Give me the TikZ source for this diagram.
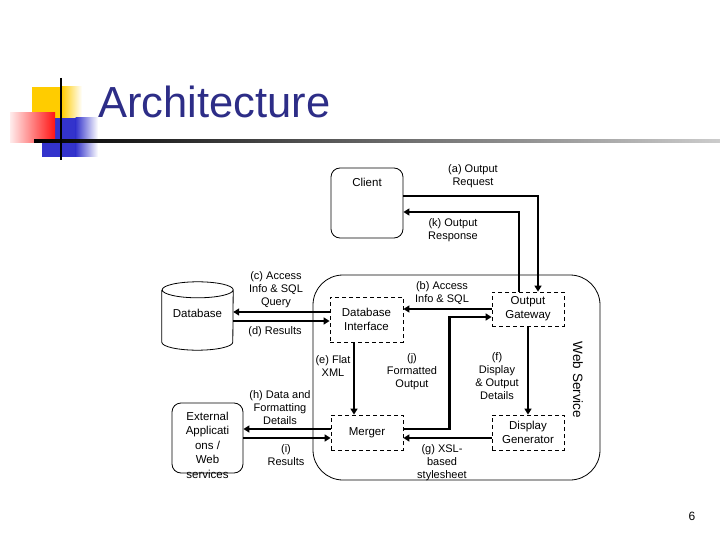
\documentclass[tikz,border=0pt]{standalone}
\usepackage{fontspec}
\setmainfont{Liberation Sans}
\usepackage{xcolor}
\usetikzlibrary{arrows.meta}
\definecolor{titleblue}{RGB}{45,45,135}
\definecolor{logoyellow}{RGB}{255,204,0}
\definecolor{logoblue}{RGB}{51,51,204}
\definecolor{logored}{RGB}{255,20,20}

\begin{document}
\begin{tikzpicture}[x=1pt,y=-1pt]
\tikzstyle{lbl} = [align=center, inner sep=0pt, font=\fontsize{11}{13}\selectfont]
\tikzstyle{dashbox} = [draw, dash pattern=on 4pt off 3pt, line width=0.8pt, align=center, font=\fontsize{11.5}{14}\selectfont, inner sep=0pt]
\tikzstyle{roundbox} = [draw, rounded corners=9pt, line width=0.8pt, inner sep=0pt]
\tikzstyle{arr} = [line width=2.2pt, -{Triangle[length=6pt,width=7pt]}]
%
\useasboundingbox (0,0) rectangle (720,540);
% logo
\fill[logoyellow] (32,87) rectangle (62,128);
\shade[left color=logoyellow, right color=white] (61.5,87) rectangle (82,128);
\fill[logoblue] (42,118) rectangle (76,157);
\shade[left color=logoblue, right color=white] (75.5,118) rectangle (98,157);
\shade[left color=logored!8, right color=logored] (10,113) rectangle (55,143);
\shade[left color=black, right color=black!20] (34,139.8) rectangle (720,142.2);
\draw[line width=2pt] (61,78) -- (61,160);
\node[anchor=base west, inner sep=0pt, text=titleblue, font=\fontsize{43.5}{44}\selectfont] (title) at (98,118) {Architecture};
%
% boxes
\node[roundbox, minimum width=72pt, minimum height=70pt] (client) at (367,203) {};
\node[lbl, font=\fontsize{11.5}{14}\selectfont] (clienttext) at (367,182) {Client};
\node[draw, rounded corners=30pt, line width=0.8pt, minimum width=287pt, minimum height=205pt] (ws) at (456.5,377.5) {};
\node[lbl, rotate=-90, font=\fontsize{13.5}{15}\selectfont] (wstext) at (578,380) {Web Service};
\node[dashbox, minimum width=73pt, minimum height=45pt] (dbi) at (366.5,319.5) {Database\\Interface};
\node[dashbox, minimum width=72pt, minimum height=34pt] (gw) at (528,309) {Output\\Gateway};
\node[dashbox, minimum width=72pt, minimum height=35pt] (merger) at (367,432.5) {Merger};
\node[dashbox, minimum width=72pt, minimum height=35pt] (dg) at (528,432.5) {Display\\Generator};
\node[minimum width=71pt, minimum height=68pt, inner sep=0pt] (db) at (197.5,316) {};
\node[lbl, font=\fontsize{11.5}{14}\selectfont] (dbtext) at (197.5,313) {Database};
\draw[line width=0.8pt] ([yshift=-8pt]db.north west) -- ([yshift=8pt]db.south west)
  arc(180:360:35.5pt and 8pt) -- ([yshift=-8pt]db.north east) arc(0:360:35.5pt and 8pt);
\node[roundbox, minimum width=71pt, minimum height=70pt] (ext) at (207.5,438) {};
\node[lbl, font=\fontsize{11.5}{14.5}\selectfont] (exttext) at (207.5,445) {External\\Applicati\\ons /\\Web\\services};
%
% connectors
\coordinate (cstart) at ([yshift=7.5pt]dbi.west);
\coordinate (dend) at ([yshift=-1.5pt]dbi.west);
\coordinate (hstart) at ([yshift=3.5pt]merger.west);
\coordinate (iend) at ([yshift=-5.5pt]merger.west);
\draw[arr] ([yshift=7pt]client.east) -| ([xshift=10pt]gw.north);
\draw[arr] ([xshift=-9pt]gw.north) |- ([yshift=-9pt]client.east);
\draw[arr] (gw.west) -- (gw.west -| dbi.east);
\draw[arr] (cstart) -- (cstart -| db.east);
\draw[arr] (dend -| db.east) -- (dend);
\draw[arr] ([xshift=-12.5pt]dbi.south) -- ([xshift=-13pt]merger.north);
\draw[arr] (gw.south) -- (dg.north);
\draw[arr] ([yshift=-5.5pt]dg.west) -- ([yshift=-5.5pt]merger.east);
\draw[arr] ([yshift=3.5pt]merger.east) -- ++(46,0) |- ([yshift=-8pt]gw.west);
\draw[arr] (hstart) -- (hstart -| ext.east);
\draw[arr] (iend -| ext.east) -- (iend);
%
% labels
\node[lbl] (la) at (473,176.5) {(a) Output\\Request};
\node[lbl] (lk) at (453,230.5) {(k) Output\\Response};
\node[lbl] (lb) at (442,293.5) {(b) Access\\Info \& SQL};
\node[lbl] (lc) at (276,290) {(c) Access\\Info \& SQL\\Query};
\node[lbl] (ld) at (275,332) {(d) Results};
\node[lbl] (le) at (333,366) {(e) Flat\\XML};
\node[lbl] (lj) at (412,372) {(j)\\Formatted\\Output};
\node[lbl] (lf) at (497,376.5) {(f)\\Display\\\& Output\\Details};
\node[lbl] (lh) at (280,408) {(h) Data and\\Formatting\\Details};
\node[lbl] (li) at (286,455.5) {(i)\\Results};
\node[lbl] (lg) at (442,463) {(g) XSL-\\based\\stylesheet};
\node[lbl, font=\fontsize{12}{14}\selectfont] (pagenum) at (692,516) {6};
\end{tikzpicture}
\end{document}
